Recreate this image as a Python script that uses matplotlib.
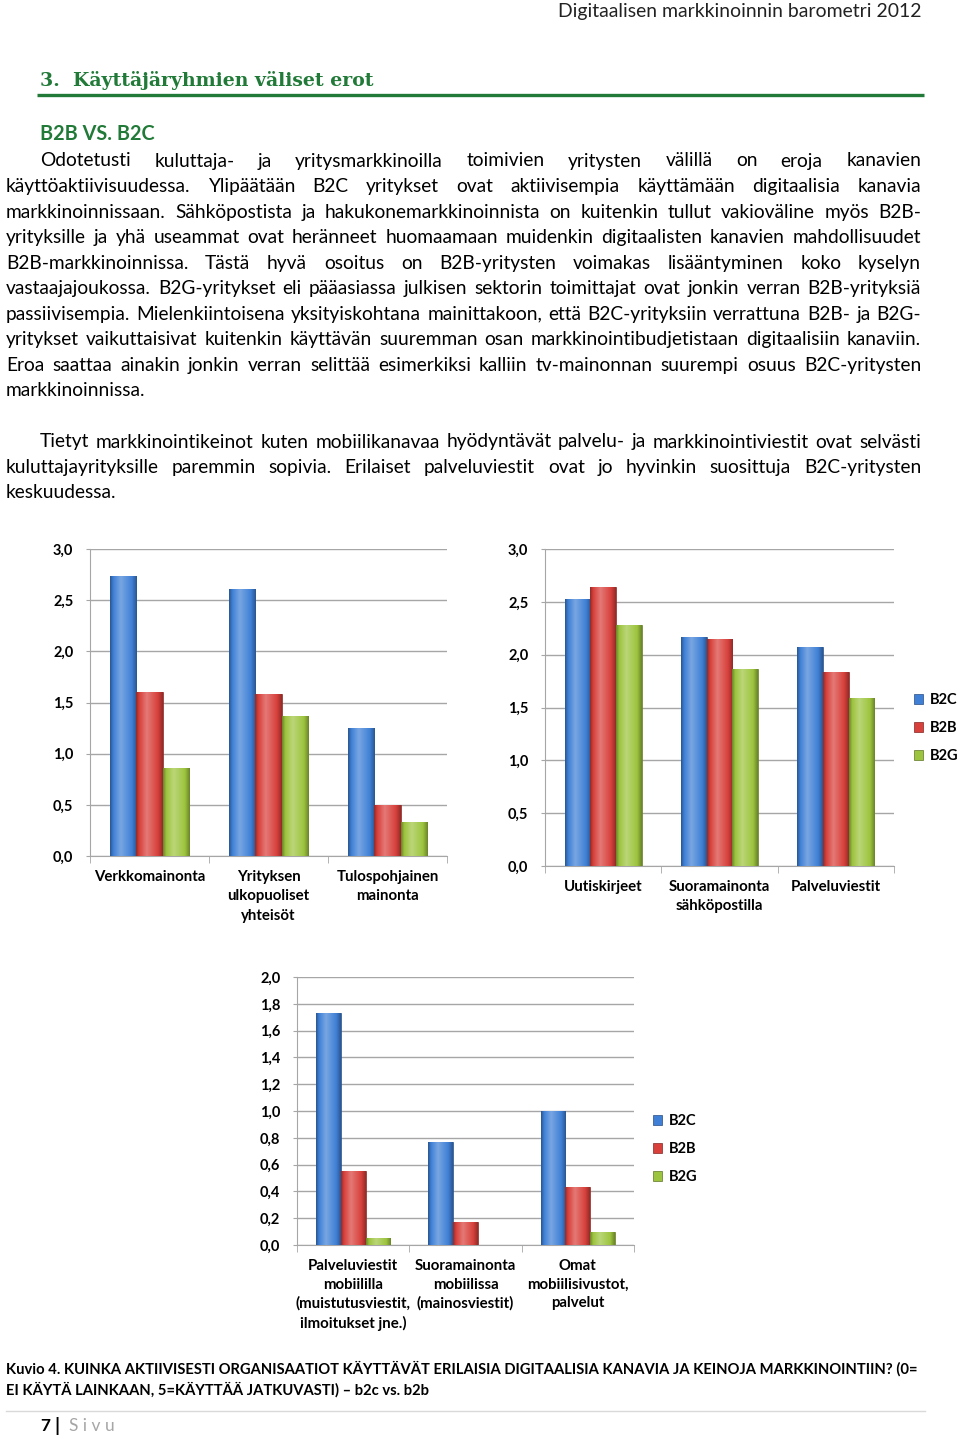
import numpy as np
import matplotlib
matplotlib.use('Agg')
import matplotlib.pyplot as plt
import matplotlib.colors as mcolors
from matplotlib.colors import LinearSegmentedColormap
from matplotlib.patches import Patch
from matplotlib.ticker import FuncFormatter

W, H = 960, 1438
FONT = 'Lato'
GREEN = '#217A38'

groups = ['B2C', 'B2B', 'B2G']
colors = ['#3F80D6', '#D8403B', '#9DC43E']

cats1 = ['Verkkomainonta', 'Yrityksen\nulkopuoliset\nyhteisöt', 'Tulospohjainen\nmainonta']
b2c_1 = [2.74, 2.61, 1.25]
b2b_1 = [1.60, 1.58, 0.50]
b2g_1 = [0.86, 1.37, 0.33]

cats2 = ['Uutiskirjeet', 'Suoramainonta\nsähköpostilla', 'Palveluviestit']
b2c_2 = [2.53, 2.17, 2.07]
b2b_2 = [2.64, 2.15, 1.84]
b2g_2 = [2.28, 1.86, 1.59]

cats3 = ['Palveluviestit\nmobiililla\n(muistutusviestit,\nilmoitukset jne.)',
         'Suoramainonta\nmobiilissa\n(mainosviestit)',
         'Omat\nmobiilisivustot,\npalvelut']
b2c_3 = [1.73, 0.77, 1.00]
b2b_3 = [0.55, 0.17, 0.43]
b2g_3 = [0.055, 0.0, 0.10]

para1 = [
    'Odotetusti kuluttaja- ja yritysmarkkinoilla toimivien yritysten välillä on eroja kanavien',
    'käyttöaktiivisuudessa. Ylipäätään B2C yritykset ovat aktiivisempia käyttämään digitaalisia kanavia',
    'markkinoinnissaan. Sähköpostista ja hakukonemarkkinoinnista on kuitenkin tullut vakioväline myös B2B-',
    'yrityksille ja yhä useammat ovat heränneet huomaamaan muidenkin digitaalisten kanavien mahdollisuudet',
    'B2B-markkinoinnissa. Tästä hyvä osoitus on B2B-yritysten voimakas lisääntyminen koko kyselyn',
    'vastaajajoukossa. B2G-yritykset eli pääasiassa julkisen sektorin toimittajat ovat jonkin verran B2B-yrityksiä',
    'passiivisempia. Mielenkiintoisena yksityiskohtana mainittakoon, että B2C-yrityksiin verrattuna B2B- ja B2G-',
    'yritykset vaikuttaisivat kuitenkin käyttävän suuremman osan markkinointibudjetistaan digitaalisiin kanaviin.',
    'Eroa saattaa ainakin jonkin verran selittää esimerkiksi kalliin tv-mainonnan suurempi osuus B2C-yritysten',
    'markkinoinnissa.',
]
para2 = [
    'Tietyt markkinointikeinot kuten mobiilikanavaa hyödyntävät palvelu- ja markkinointiviestit ovat selvästi',
    'kuluttajayrityksille paremmin sopivia. Erilaiset palveluviestit ovat jo hyvinkin suosittuja B2C-yritysten',
    'keskuudessa.',
]

fig = plt.figure(figsize=(W / 100, H / 100), dpi=100)
fig.patch.set_facecolor('white')
r = fig.canvas.get_renderer()

page = fig.add_axes([0, 0, 1, 1])
page.set_xlim(0, W)
page.set_ylim(H, 0)
page.axis('off')


def box(x0, y0, x1, y1):
    return [x0 / W, 1 - y1 / H, (x1 - x0) / W, (y1 - y0) / H]


def width(t):
    return t.get_window_extent(r).width


def fit(t, target):
    t.set_fontsize(t.get_fontsize() * target / width(t))


def put_line(line, y, x0, x1, size, justify):
    words = line.split(' ')
    ts = [page.text(0, y, w, fontsize=size, va='center', ha='left', family=FONT) for w in words]
    ws = [width(t) for t in ts]
    if justify and len(words) > 1:
        gap = (x1 - x0 - sum(ws)) / (len(words) - 1)
    else:
        gap = space
    x = x0
    for t, w in zip(ts, ws):
        t.set_x(x)
        x += w + gap


# body text size: fit the tightest justified line into the column
probe = page.text(0, 0, '', fontsize=12, family=FONT)
ratios = []
for i, line in enumerate(para1[:-1] + para2[:-1]):
    probe.set_text(line)
    x0 = 40 if i in (0, len(para1) - 1) else 6
    ratios.append((921 - x0) / width(probe))
body = 12 * min(ratios) * 0.985
probe.set_fontsize(body)
probe.set_text('a a')
wa = width(probe)
probe.set_text('aa')
space = wa - width(probe)
probe.remove()

for i, line in enumerate(para1):
    put_line(line, 161 + 25.55 * i, 40 if i == 0 else 6, 921, body, i < len(para1) - 1)
for i, line in enumerate(para2):
    put_line(line, 442 + 25.5 * i, 40 if i == 0 else 6, 921, body, i < len(para2) - 1)

# header / headings
t = page.text(921, 12, 'Digitaalisen markkinoinnin barometri 2012', fontsize=13, family=FONT,
              ha='right', va='center', color='#222222')
fit(t, 362)
t = page.text(40, 80, '3.  Käyttäjäryhmien väliset erot', fontsize=15, family='DejaVu Serif',
              weight='bold', color=GREEN, ha='left', va='center')
fit(t, 335)
page.plot([37, 924], [95, 95], color=GREEN, lw=2.4, solid_capstyle='butt')
t = page.text(40, 134, 'B2B VS. B2C', fontsize=13, family=FONT, weight='bold', color=GREEN,
              ha='left', va='center')
fit(t, 114)

# caption and footer
t = page.text(6, 1369, 'Kuvio 4. KUINKA AKTIIVISESTI ORGANISAATIOT KÄYTTÄVÄT ERILAISIA DIGITAALISIA '
              'KANAVIA JA KEINOJA MARKKINOINTIIN? (0=', fontsize=10, family=FONT, weight='bold',
              ha='left', va='center')
fit(t, 915)
page.text(6, 1390, 'EI KÄYTÄ LAINKAAN, 5=KÄYTTÄÄ JATKUVASTI) – b2c vs. b2b', fontsize=t.get_fontsize(),
          family=FONT, weight='bold', ha='left', va='center')
page.plot([6, 925], [1411, 1411], color='#D9D9D9', lw=1)
page.text(40, 1426, '7', fontsize=12.5, family=FONT, weight='bold', ha='left', va='center')
page.text(54, 1426, '|', fontsize=14, family=FONT, weight='bold', ha='left', va='center')
page.text(69, 1426, 'S i v u', fontsize=12.5, family=FONT, color='#A6A6A6', ha='left', va='center')


def shade(ax, bars, base):
    c = np.array(mcolors.to_rgb(base))
    dark = c * 0.68
    light = np.minimum(1, c + (1 - c) * 0.3)
    cmap = LinearSegmentedColormap.from_list('g', [(0, dark), (0.12, c), (0.4, light),
                                                   (0.82, c), (1, dark)])
    grad = np.linspace(0, 1, 64).reshape(1, -1)
    for b in bars:
        x, w, h = b.get_x(), b.get_width(), b.get_height()
        if h <= 0:
            continue
        im = ax.imshow(grad, cmap=cmap, extent=(x, x + w, 0, h), aspect='auto', zorder=3,
                       interpolation='bilinear')
        im.set_clip_path(b)


def chart(rect, cats, series, ymax, step, legend_at=None, lsp=1.5):
    ax = fig.add_axes(box(*rect))
    x = np.arange(len(cats))
    bw = 0.22
    for i, (vals, col) in enumerate(zip(series, colors)):
        bars = ax.bar(x + (i - 1) * bw, vals, bw, color=col, zorder=2,
                      edgecolor=np.array(mcolors.to_rgb(col)) * 0.6, lw=0.5)
        shade(ax, bars, col)
    ax.set_xlim(-0.5, len(cats) - 0.5)
    ax.set_ylim(0, ymax)
    ax.set_yticks(np.arange(0, ymax + step / 2, step))
    ax.yaxis.set_major_formatter(FuncFormatter(lambda v, p: f'{v:.1f}'.replace('.', ',')))
    ax.grid(axis='y', color='#A6A6A6', lw=1)
    ax.set_axisbelow(True)
    ax.set_xticks(x)
    ax.set_xticklabels(cats, fontsize=10.8, family=FONT, weight='bold', linespacing=lsp)
    ax.set_xticks(np.arange(-0.5, len(cats)), minor=True)
    ax.tick_params(axis='x', which='major', length=0, pad=10)
    ax.tick_params(axis='x', which='minor', length=5, color='#A6A6A6')
    ax.tick_params(axis='y', length=3, color='#A6A6A6', pad=9)
    for lbl in ax.get_yticklabels():
        lbl.set_fontsize(10.5)
        lbl.set_family(FONT)
        lbl.set_weight('bold')
    for s in ('top', 'right'):
        ax.spines[s].set_visible(False)
    for s in ('left', 'bottom'):
        ax.spines[s].set_color('#A6A6A6')
    if legend_at:
        handles = [Patch(facecolor=c, edgecolor=np.array(mcolors.to_rgb(c)) * 0.6, lw=0.5)
                   for c in colors]
        ax.legend(handles, groups, loc='center left',
                  bbox_to_anchor=(legend_at[0] / W, 1 - legend_at[1] / H),
                  bbox_transform=fig.transFigure, frameon=False, handlelength=0.65,
                  handleheight=0.65, handletextpad=0.45, labelspacing=0.95, borderpad=0,
                  borderaxespad=0, prop={'family': FONT, 'weight': 'bold', 'size': 10.5})
    return ax


chart((90, 549, 447, 856), cats1, [b2c_1, b2b_1, b2g_1], 3.0, 0.5, lsp=1.5)
chart((545, 549, 894, 866), cats2, [b2c_2, b2b_2, b2g_2], 3.0, 0.5, legend_at=(914, 728), lsp=1.5)
chart((297, 977, 634, 1245), cats3, [b2c_3, b2b_3, b2g_3], 2.0, 0.2, legend_at=(653, 1149),
      lsp=1.42)

fig.savefig('out.png', dpi=100, facecolor='white')
